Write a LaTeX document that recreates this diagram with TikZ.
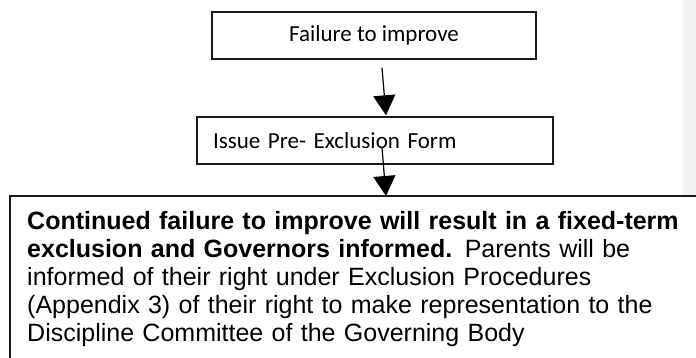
\documentclass[tikz,border=0pt]{standalone}
\usepackage{fontspec}
\setmainfont{Liberation Sans}
\newfontfamily\calibrifont{Carlito}
\usetikzlibrary{arrows.meta, positioning}
\usepackage{xcolor}
\definecolor{cMargin}{HTML}{F2F2F2}
\definecolor{cLine}{HTML}{1A1A1A}

\begin{document}
\begin{tikzpicture}[
  x=1pt, y=-1pt,
  fbox/.style={rectangle, draw=cLine, line width=1.4pt, minimum height=47pt,
               font=\calibrifont\fontsize{23}{26}\selectfont, inner sep=0pt},
  bigbox/.style={rectangle, anchor=north west, text width=700pt, align=left,
                 inner xsep=17pt, inner ysep=15pt,
                 font=\fontsize{25}{28}\selectfont},
  boxline/.style={draw=cLine, line width=1.4pt},
  arr/.style={-{Triangle[length=20pt, width=22pt]}, line width=1.2pt, color=black},
]
\useasboundingbox (0,0) rectangle (696,358);
\clip (0,0) rectangle (696,358);
\fill[cMargin] (683,0) rectangle (696,195);
\node[fbox, minimum width=324pt] (fail) at (374,35.5) {Failure to improve};
\node[fbox, minimum width=356pt, text width=324pt, align=left] (preex) at (375,140.5)
  {Issue Pre- Exclusion Form};
\node[bigbox] (excl) at (10,196)
  {\textbf{Continued failure to improve will result in a fixed-term}\\
   \textbf{exclusion and Governors informed.} Parents will be\\
   informed of their right under Exclusion Procedures\\
   (Appendix 3) of their right to make representation to the\\
   Discipline Committee of the Governing Body};
% open box: only top and left edges show
\draw[boxline] (excl.north west) ++(0,200) |- ++(720,-200);
\draw[arr] ([xshift=8pt, yshift=-8pt]fail.south) -- ([xshift=11pt, yshift=1pt]preex.north);
\draw[arr] ([xshift=7pt, yshift=17pt]preex.south) -- ([xshift=11pt]excl.north -| preex.south);
\end{tikzpicture}
\end{document}
